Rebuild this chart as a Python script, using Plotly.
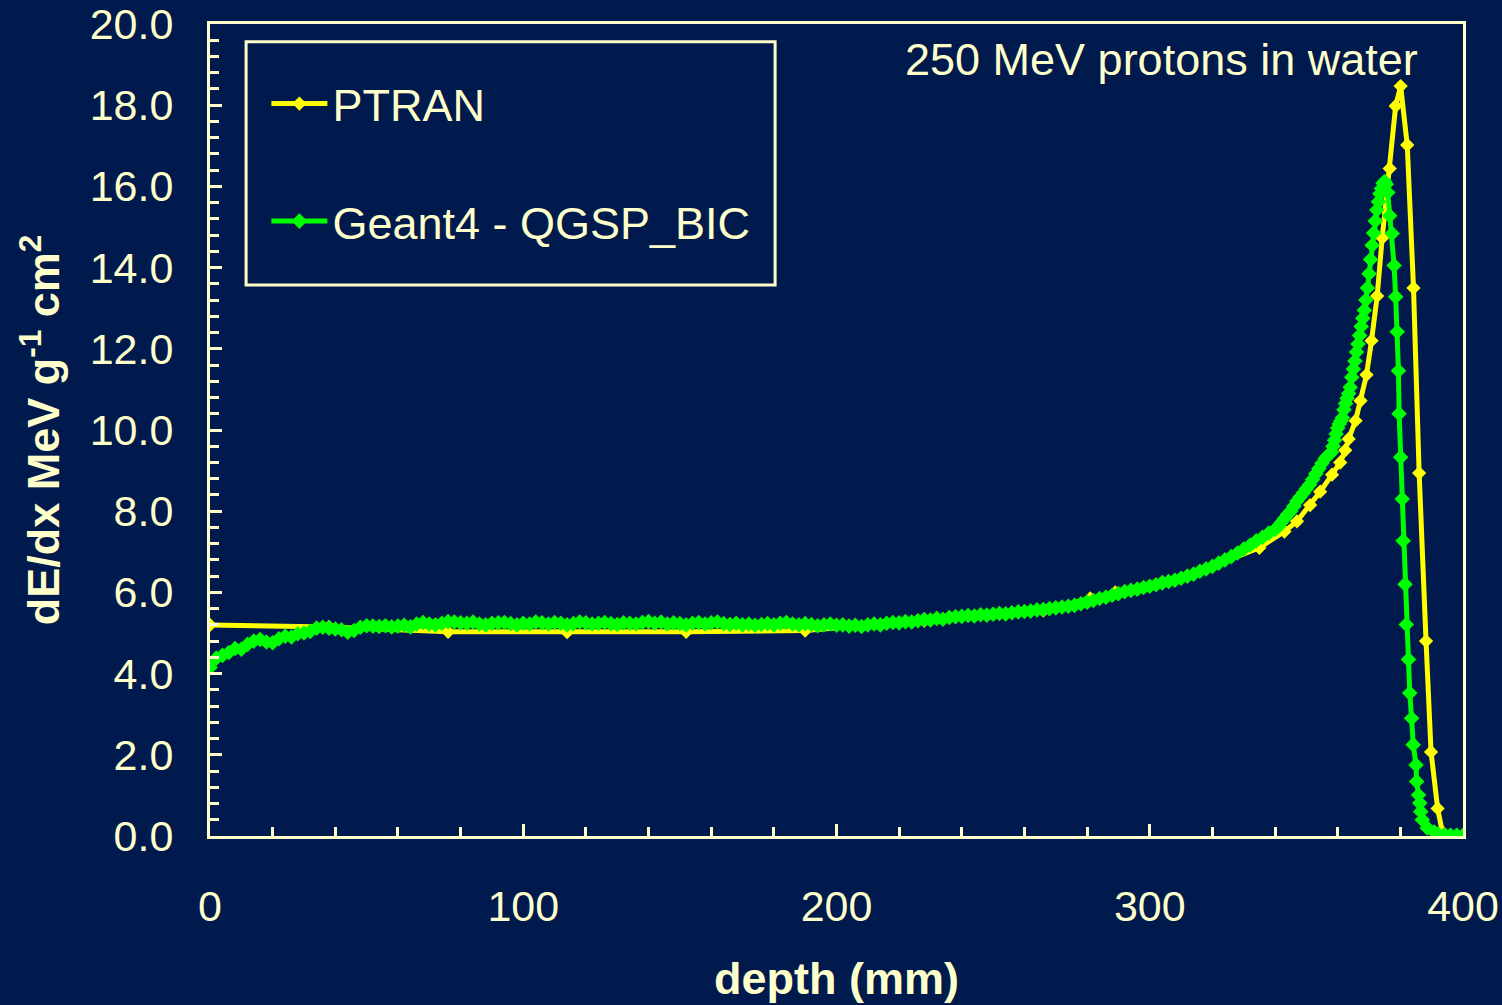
import plotly.graph_objects as go

# ---------------- data ----------------
ptran_x = [0, 38, 76, 114, 152, 190, 228, 266, 281, 289, 304, 312, 335, 343, 347, 351.2,
           354.4, 358.2, 360.8, 362.4, 363.5, 365.7, 367.3, 369.2, 370.8, 372.6, 374.2,
           376.6, 378.5, 380.1, 382.2, 384.2, 386.0, 388.2, 389.8, 391.9, 393.4]
ptran_y = [5.2, 5.15, 5.03, 5.02, 5.03, 5.06, 5.3, 5.55, 5.85, 6.0, 6.25, 6.4, 7.1, 7.5,
           7.75, 8.15, 8.48, 8.9, 9.2, 9.5, 9.78, 10.23, 10.72, 11.36, 12.2, 13.3, 14.73,
           16.44, 17.98, 18.47, 17.02, 13.5, 8.94, 4.8, 2.07, 0.68, 0.1]

# Geant4 flat/plateau region, 2 mm steps from 0 to 338 mm
g4_plateau_x = list(range(0, 340, 2))
g4_plateau_y = [
    4.15, 4.38, 4.45, 4.52, 4.62, 4.60, 4.72, 4.80, 4.84, 4.78,
    4.76, 4.86, 4.92, 4.90, 4.98, 5.00, 5.04, 5.12, 5.14, 5.12,
    5.10, 5.08, 5.02, 5.06, 5.14, 5.18, 5.17, 5.16, 5.18, 5.15,
    5.17, 5.19, 5.15, 5.22, 5.26, 5.22, 5.20, 5.24, 5.28, 5.27,
    5.25, 5.24, 5.27, 5.22, 5.20, 5.24, 5.25, 5.26, 5.23, 5.20,
    5.24, 5.22, 5.27, 5.25, 5.22, 5.26, 5.24, 5.20, 5.23, 5.27,
    5.25, 5.22, 5.24, 5.26, 5.23, 5.21, 5.25, 5.24, 5.22, 5.26,
    5.28, 5.24, 5.27, 5.22, 5.25, 5.23, 5.20, 5.24, 5.26, 5.22,
    5.25, 5.27, 5.23, 5.21, 5.24, 5.20, 5.22, 5.19, 5.21, 5.23,
    5.20, 5.24, 5.26, 5.22, 5.20, 5.23, 5.21, 5.18, 5.20, 5.22,
    5.19, 5.20, 5.17, 5.19, 5.16, 5.20, 5.22, 5.20, 5.24, 5.26,
    5.25, 5.28, 5.27, 5.30, 5.33, 5.32, 5.36, 5.34, 5.38, 5.40,
    5.41, 5.43, 5.42, 5.45, 5.44, 5.46, 5.48, 5.47, 5.50, 5.52,
    5.53, 5.54, 5.57, 5.58, 5.60, 5.62, 5.64, 5.66, 5.68, 5.72,
    5.76, 5.80, 5.85, 5.88, 5.93, 5.97, 6.02, 6.05, 6.08, 6.12,
    6.15, 6.19, 6.23, 6.27, 6.30, 6.35, 6.40, 6.45, 6.52, 6.58,
    6.64, 6.72, 6.80, 6.88, 6.97, 7.07, 7.16, 7.27, 7.36, 7.46,
]

# Geant4 distal rise, 1 mm steps 340..357, then 0.5 mm steps 358..376
g4_rise_x = [340, 341, 342, 343, 344, 345, 346, 347, 348, 349, 350, 351, 352, 353, 354, 355,
             356, 357, 358.0, 358.5, 359.0, 359.5, 360.0, 360.5, 361.0, 361.5, 362.0, 362.5,
             363.0, 363.5, 364.0, 364.5, 365.0, 365.5, 366.0, 366.5, 367.0, 367.5, 368.0,
             368.5, 369.0, 369.5, 370.0, 370.5, 371.0, 371.5, 372.0, 372.5, 373.0, 373.5,
             374.0, 374.5, 375.0, 375.5, 376.0]
g4_rise_y = [7.55, 7.62, 7.72, 7.82, 7.92, 8.00, 8.12, 8.25, 8.35, 8.45, 8.55, 8.65, 8.78,
             8.92, 9.05, 9.18, 9.30, 9.38, 9.45, 9.60, 9.75, 9.90, 10.05, 10.15, 10.22, 10.30,
             10.50, 10.65, 10.78, 10.90, 11.05, 11.30, 11.50, 11.70, 11.92, 12.12, 12.33,
             12.55, 12.75, 12.95, 13.20, 13.50, 13.85, 14.20, 14.55, 14.85, 15.15, 15.42,
             15.62, 15.82, 15.95, 16.08, 16.12, 16.05, 15.85]

# Geant4 distal fall-off
g4_fall_x = [376.6, 377.4, 378.0, 378.5, 379.0, 379.4, 379.6, 380.1, 380.6, 380.9, 381.5,
             381.9, 382.6, 383.0, 383.6, 384.1, 385.0, 385.2, 385.8, 386.2, 386.5, 387.0,
             388.6, 390.8, 392, 394, 396, 398, 400]
g4_fall_y = [15.28, 14.84, 14.05, 13.28, 12.42, 11.46, 10.40, 9.33, 8.30, 7.27, 6.20, 5.21,
             4.35, 3.52, 2.90, 2.25, 1.75, 1.34, 1.01, 0.81, 0.60, 0.40, 0.20, 0.10, 0.05,
             0.03, 0.02, 0.02, 0.02]

g4_x = g4_plateau_x + g4_rise_x + g4_fall_x
g4_y = g4_plateau_y + g4_rise_y + g4_fall_y

x_ticks = [0, 100, 200, 300, 400]
y_ticks = [0, 2, 4, 6, 8, 10, 12, 14, 16, 18, 20]

# ---------------- style ----------------
BG = "#001a4d"
CREAM = "#ffffcc"
FONT = "Liberation Sans, Arial, sans-serif"

fig = go.Figure()
fig.add_trace(go.Scatter(
    x=ptran_x, y=ptran_y, mode="lines+markers", name="PTRAN",
    line=dict(color="#ffff00", width=5),
    marker=dict(symbol="diamond", size=11, color="#ffff00"),
    legendgroup="a",
))
fig.add_trace(go.Scatter(
    x=g4_x, y=g4_y, mode="lines+markers", name="Geant4 - QGSP_BIC",
    line=dict(color="#00ff00", width=5),
    marker=dict(symbol="diamond", size=12, color="#00ff00"),
    legendgroup="b",
))

axis_common = dict(
    showline=True, linecolor=CREAM, linewidth=3, mirror=True, automargin=False,
    showgrid=False, zeroline=False, ticks="inside", tickcolor=CREAM, tickwidth=3,
    tickfont=dict(family=FONT, size=43, color=CREAM),
)

fig.update_layout(
    width=1502, height=1005,
    paper_bgcolor=BG, plot_bgcolor=BG,
    margin=dict(l=210, r=39, t=24, b=169),
    font=dict(family=FONT, color=CREAM),
    xaxis=dict(
        **axis_common, range=[0, 400], tickvals=x_ticks, ticklen=12,
        minor=dict(dtick=20, ticks="inside", ticklen=9, tickcolor=CREAM, tickwidth=3),
        ticklabelstandoff=30,
        title=dict(text="<b>depth (mm)</b>", font=dict(family=FONT, size=45, color=CREAM),
                   standoff=34),
    ),
    yaxis=dict(
        **axis_common, range=[0, 20], tickvals=y_ticks, tickformat=".1f", ticklen=12,
        minor=dict(dtick=0.4, ticks="inside", ticklen=9, tickcolor=CREAM, tickwidth=3),
        ticklabelstandoff=25,
        title=dict(text="<b>dE/dx MeV g<sup>-1</sup> cm<sup>2</sup></b>",
                   font=dict(family=FONT, size=45, color=CREAM), standoff=16),
    ),
    legend=dict(
        x=0.045, y=0.946, xanchor="left", yanchor="top",
        bgcolor="rgba(0,0,0,0)", borderwidth=0,
        font=dict(family=FONT, size=45, color=CREAM),
        tracegroupgap=56, itemwidth=56,
    ),
    showlegend=True,
    shapes=[dict(type="rect", xref="paper", yref="paper",
                 x0=0.0288, x1=0.451, y0=0.6786, y1=0.978,
                 line=dict(color=CREAM, width=3), fillcolor="rgba(0,0,0,0)", layer="above")],
    annotations=[dict(text="250 MeV protons in water", xref="paper", yref="paper",
                      x=0.966, y=0.956, xanchor="right", yanchor="middle", showarrow=False,
                      font=dict(family=FONT, size=45, color=CREAM))],
)

fig.write_html("out.html")
